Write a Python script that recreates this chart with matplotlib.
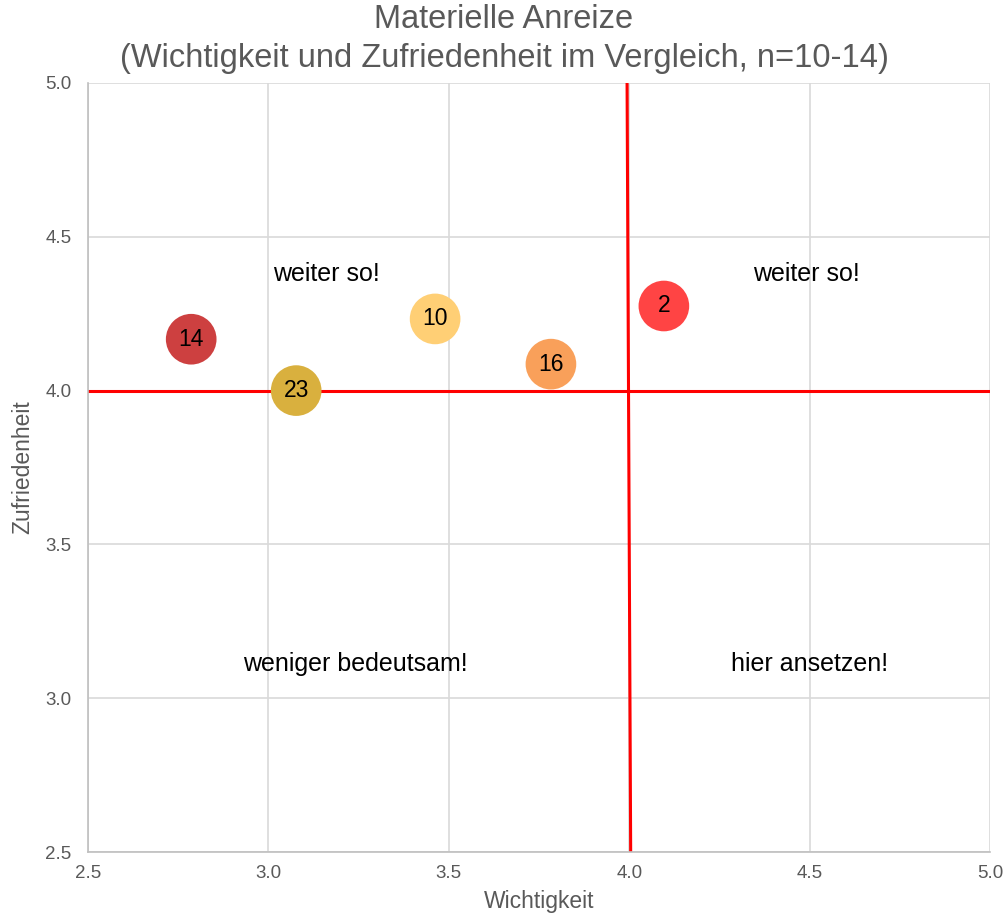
import matplotlib

matplotlib.use("Agg")
import matplotlib.pyplot as plt

plt.rcParams["font.family"] = ["Liberation Sans", "DejaVu Sans"]

# bubbles: id, Wichtigkeit, Zufriedenheit
labels = ["14", "23", "10", "16", "2"]
wichtigkeit = [2.786, 3.077, 3.462, 3.783, 4.096]
zufriedenheit = [4.167, 4.0, 4.233, 4.086, 4.275]
colors = ["#CD4040", "#D9B03E", "#FFCF75", "#F9A05A", "#FF4444"]

# quadrant dividers (the vertical one is slightly tilted in the original)
hline_x = [2.5, 5.0]
hline_y = [4.0, 4.0]
vline_x = [4.004, 3.994]
vline_y = [2.5, 5.0]

quadrant_texts = ["weiter so!", "weiter so!", "weniger bedeutsam!", "hier ansetzen!"]
quadrant_x = [3.16, 4.49, 3.24, 4.50]
quadrant_y = [4.38, 4.38, 3.11, 3.11]

ticks = [2.5, 3.0, 3.5, 4.0, 4.5, 5.0]
title_lines = ["Materielle Anreize",
               "(Wichtigkeit und Zufriedenheit im Vergleich, n=10-14)"]

fig = plt.figure(figsize=(10.08, 9.24), dpi=100)
ax = fig.add_axes([0.0873, 0.0779, 0.8949, 0.8323])

ax.set_xlim(2.5, 5.0)
ax.set_ylim(2.5, 5.0)
ax.set_xticks(ticks)
ax.set_yticks(ticks)
ax.set_xticklabels([f"{t:.1f}" for t in ticks])
ax.set_yticklabels([f"{t:.1f}" for t in ticks])
ax.tick_params(length=0, labelsize=13.5, colors="#595959")
ax.tick_params(axis="x", pad=9)
ax.tick_params(axis="y", pad=12)
ax.grid(True, color="#D9D9D9", linewidth=1.2)
ax.set_axisbelow(True)
for side in ["top", "right"]:
    ax.spines[side].set_visible(False)
ax.spines["left"].set_color("#BFBFBF")
ax.spines["bottom"].set_color("#BFBFBF")
ax.spines["left"].set_linewidth(1.2)
ax.spines["bottom"].set_linewidth(1.2)

ax.plot(hline_x, hline_y, color="#FF0000", linewidth=2.2, zorder=2)
ax.plot(vline_x, vline_y, color="#FF0000", linewidth=2.2, zorder=2)

ax.scatter(wichtigkeit, zufriedenheit, s=1330, c=colors, edgecolors="none", zorder=3)
for lab, x, y in zip(labels, wichtigkeit, zufriedenheit):
    ax.text(x, y, lab, ha="center", va="center", fontsize=16.5, color="black", zorder=4)

for t, x, y in zip(quadrant_texts, quadrant_x, quadrant_y):
    ax.text(x, y, t, ha="center", va="center", fontsize=18, color="black")

ax.set_xlabel("Wichtigkeit", fontsize=16.5, color="#595959", labelpad=6)
ax.set_ylabel("Zufriedenheit", fontsize=16.5, color="#595959", labelpad=8)

fig.text(0.5, 1 - 20 / 924, title_lines[0], ha="center", va="center",
         fontsize=23.5, color="#595959")
fig.text(0.5, 1 - 58 / 924, title_lines[1], ha="center", va="center",
         fontsize=23.5, color="#595959")

fig.savefig("out.png", dpi=100)
